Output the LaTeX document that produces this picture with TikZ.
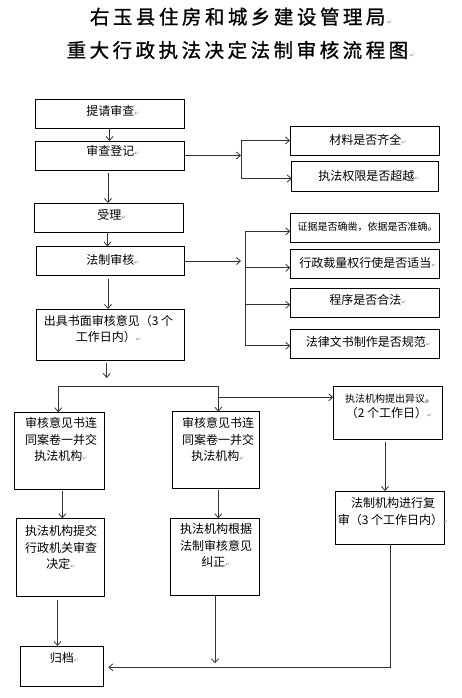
\documentclass[tikz,border=0pt]{standalone}
\usepackage{fontspec}
\setmainfont{Noto Sans CJK SC}
\newfontfamily\titlefont[FakeBold=1]{Noto Sans CJK SC}
\newfontfamily\markfont{DejaVu Sans}
\usetikzlibrary{arrows.meta}
\newcommand\retmark{{\markfont\fontsize{6}{6}\selectfont\textcolor{black!45}{↵}}}
\def\spreadchars#1{\spreadcharsA#1\relax}
\def\spreadcharsA#1{\ifx\relax#1\else\makebox[23pt]{#1}\expandafter\spreadcharsA\fi}
\begin{document}
\begin{tikzpicture}[x=1pt,y=-1pt,
  box/.style={draw=black, line width=0.8pt, inner sep=0pt, outer sep=0pt},
  txt/.style={font=\fontsize{12}{16.5}\selectfont, align=center, inner sep=0pt},
  smalltxt/.style={font=\fontsize{10}{14}\selectfont, align=center, inner sep=0pt},
  conn/.style={draw=black!80, line width=0.8pt},
  arr/.style={conn, -{Straight Barb[length=4pt,width=7pt]}}]
\useasboundingbox (0,0) rectangle (461,698);
% title
\node[anchor=west, inner sep=0pt, font=\titlefont\fontsize{19.5}{20}\selectfont] (title1) at (88,16.7) {\spreadchars{右玉县住房和城乡建设管理局}\retmark};
\node[anchor=west, inner sep=0pt, font=\titlefont\fontsize{19.5}{20}\selectfont] (title2) at (64.7,50) {\spreadchars{重大行政执法决定法制审核流程图}\retmark};
% left column boxes
\node[box, minimum width=149pt, minimum height=29pt] (b1) at (109.5,113.5) {};
\node[box, minimum width=149pt, minimum height=29pt] (b2) at (109.5,155.5) {};
\node[box, minimum width=149pt, minimum height=29pt] (b3) at (108.5,217.5) {};
\node[box, minimum width=148pt, minimum height=29pt] (b4) at (110,261) {};
\node[box, minimum width=148pt, minimum height=51pt] (b5) at (110,334.5) {};
% right boxes
\node[box, minimum width=149pt, minimum height=29pt] (r1) at (364.5,140.5) {};
\node[box, minimum width=147pt, minimum height=30pt] (r2) at (365.3,176) {};
\node[box, minimum width=149pt, minimum height=29pt] (r3) at (364.8,227.8) {};
\node[box, minimum width=149pt, minimum height=29pt] (r4) at (364.8,263.8) {};
\node[box, minimum width=149pt, minimum height=29pt] (r5) at (364.8,302.8) {};
\node[box, minimum width=149pt, minimum height=29pt] (r6) at (364.8,343.8) {};
% lower boxes
\node[box, minimum width=90pt, minimum height=77pt] (b6) at (59.3,450.8) {};
\node[box, minimum width=87pt, minimum height=76.6pt] (b7) at (215.8,450) {};
\node[box, minimum width=109.4pt, minimum height=52.6pt] (b8) at (388,413) {};
\node[box, minimum width=109.3pt, minimum height=53pt] (b9) at (389.7,517.5) {};
\node[box, minimum width=87.6pt, minimum height=78.4pt] (b10) at (60.5,557.5) {};
\node[box, minimum width=88.6pt, minimum height=77.4pt] (b11) at (215,557) {};
\node[box, minimum width=82.6pt, minimum height=40pt] (b12) at (62,666) {};
% texts
\node[txt] (t1) at (113,110.5) {提请审查\retmark};
\node[txt] (t2) at (113,150.5) {审查登记\retmark};
\node[txt] (t3) at (112,215) {受理\retmark};
\node[txt] (t4) at (113,260) {法制审核\retmark};
\node[txt] (t5) at (108.5,329) {出具书面审核意见（3 个\\工作日内）\retmark};
\node[txt] (tr1) at (368,140) {材料是否齐全\retmark};
\node[txt] (tr2) at (369,176) {执法权限是否超越\retmark};
\node[smalltxt] (tr3) at (367.5,226.5) {证据是否确凿，依据是否准确。};
\node[txt] (tr4) at (368,263.3) {行政裁量权行使是否适当\retmark};
\node[txt] (tr5) at (368,300) {程序是否合法\retmark};
\node[txt] (tr6) at (368.5,341.7) {法律文书制作是否规范\retmark};
\node[txt] (t6) at (61,439.7) {审核意见书连\\同案卷一并交\\执法机构\retmark};
\node[txt] (t7) at (218,439.7) {审核意见书连\\同案卷一并交\\执法机构\retmark};
\node[smalltxt] (t8a) at (390,398.3) {执法机构提出异议。};
\node[txt] (t8b) at (389,413.3) {（2 个工作日）\retmark};
\node[txt] (t9) at (393,511.3) {法制机构进行复\\审（3 个工作日内）\retmark};
\node[txt] (t10) at (61,547.6) {执法机构提交\\行政机关审查\\决定\retmark};
\node[txt] (t11) at (216,545.6) {执法机构根据\\法制审核意见\\纠正\retmark};
\node[txt] (t12) at (64.5,658.3) {归档\retmark};
% connectors, left column
\draw[arr] (b1.south) -- (b2.north);
\draw[arr] ([xshift=-1.5pt,yshift=-2.5pt]b2.south) -- ([xshift=-1.5pt]b2.south |- b3.north);
\draw[arr] ([xshift=-1pt]b3.south) -- ([xshift=-1pt]b3.south |- b4.north);
\draw[arr] ([xshift=-2pt,yshift=-3pt]b4.south) -- ([xshift=-2pt]b4.south |- b5.north);
% branch from b2
\coordinate (j1) at (241,156.7);
\draw[arr] (b2.east) -- (b2.east -| j1);
\draw[conn] (r1.west -| j1) -- ([yshift=-2.5pt]r2.west -| j1);
\draw[arr] (r1.west -| j1) -- (r1.west);
\draw[arr] ([yshift=-2.5pt]r2.west -| j1) -- ([yshift=-2.5pt]r2.west);
% branch from b4
\coordinate (j2) at (241,261.7);
\coordinate (bar2) at (245,261.7);
\draw[arr] (b4.east) -- (b4.east -| j2);
\draw[conn] ([yshift=-3.5pt]r3.west -| bar2) -- ([yshift=-2pt]r6.west -| bar2);
\draw[arr] ([yshift=-3.5pt]r3.west -| bar2) -- ([yshift=-3.5pt]r3.west);
\draw[arr] ([yshift=-4pt]r4.west -| bar2) -- ([yshift=-4pt]r4.west);
\draw[arr] ([yshift=-2pt]r5.west -| bar2) -- ([yshift=-2pt]r5.west);
\draw[arr] ([yshift=-2pt]r6.west -| bar2) -- ([yshift=-2pt]r6.west);
% split below b5
\coordinate (s5) at (106.7,378);
\coordinate (hl) at (58.3,386);
\coordinate (hr) at (218.3,386);
\coordinate (k8) at (218.3,397.3);
\draw[arr] ([yshift=-3pt]b5.south -| s5) -- (s5);
\draw[conn] (hl) -- (hr);
\draw[arr] (hl) -- (hl |- b6.north);
\draw[arr] (hr) -- (hr |- b7.north);
\draw[arr] (k8) -- (k8 -| b8.west);
\draw[arr] ([xshift=-3pt,yshift=-3pt]b8.south) -- ([xshift=-3pt]b8.south |- b9.north);
\draw[arr] ([xshift=3pt,yshift=-2pt]b6.south) -- ([xshift=3pt]b6.south |- b10.north);
\draw[arr] ([xshift=2.5pt,yshift=-2pt]b7.south) -- ([xshift=2.5pt]b7.south |- b11.north);
\draw[arr] ([xshift=-3pt,yshift=-3pt]b10.south) -- ([xshift=-3pt]b10.south |- b12.north);
\coordinate (e11) at (215,663.3);
\draw[arr] (b11.south) -- (e11);
\draw[arr] ([xshift=1pt]b9.south) |- ([xshift=5pt,yshift=-1.3pt]b12.east);
\end{tikzpicture}
\end{document}
